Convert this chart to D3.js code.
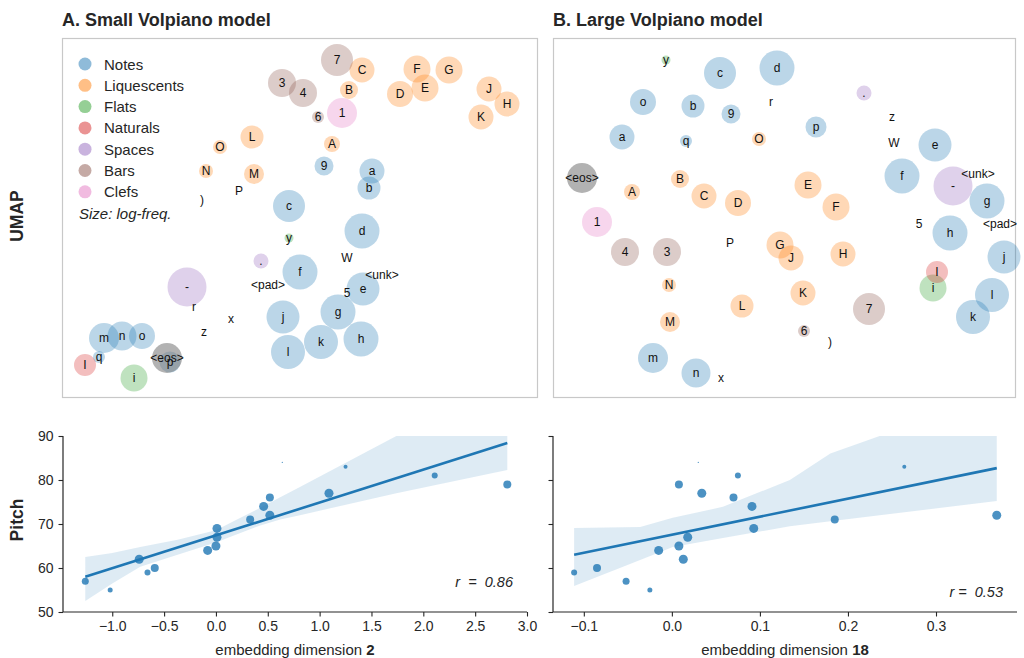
<!DOCTYPE html>
<html>
<head>
<meta charset="utf-8">
<script src="https://cdn.jsdelivr.net/npm/d3@7"></script>
<style>
  body { margin: 0; background: #fff; }
  svg { font-family: "Liberation Sans", Arial, sans-serif; }
</style>
</head>
<body>
<svg id="fig" width="1024" height="658"></svg>
<script>
// ---- data ----
const categories = ["Notes", "Liquescents", "Flats", "Naturals", "Spaces", "Bars", "Clefs"];
const catColors = ["#1f77b4", "#ff7f0e", "#2ca02c", "#d62728", "#9467bd", "#8c564b", "#e377c2"];

// token, category (-1 = none / text only, 7 = special), size (log-freq, as radius)
const tokens = ["a","b","c","d","e","f","g","h","j","k","l","m","n","o","p","q","9",
  "A","B","C","D","E","F","G","H","J","K","L","M","N","O",
  "i","y","I","-",".","3","4","6","7","1","<eos>",
  "P",")","r","x","z","W","5","<unk>","<pad>"];
const tokenCat = [0,0,0,0,0,0,0,0,0,0,0,0,0,0,0,0,0,
  1,1,1,1,1,1,1,1,1,1,1,1,1,1,
  2,2,3,4,4,5,5,5,5,6,7,
  -1,-1,-1,-1,-1,-1,-1,-1,-1];
const tokenSize = [12.5,11.5,16,17.5,16.5,17.5,17.5,17.5,16.5,17,17,15,14.5,13,10.5,6,9.5,
  8,9,12.5,13,13.5,13.5,13.5,12.5,12.5,12.5,11.5,10,7,7,
  13.5,4.5,11,19.5,7.5,14,14,6,16,15,15,
  0,0,0,0,0,0,0,0,0];

// UMAP coordinates (panel units, y downwards)
const umapSmallX = [310,307,227,300,301,238,276,299,221,259,226,42,60,80,108,37,262,
  270,287,300,338,363,355,387,445,427,419,190,192,144,158,
  72,227,23,125,199,220,241,256,275,280,105,
  177,140,132,169,142,285,285,320,206];
const umapSmallY = [133,150,168,193,251,234,274,301,279,304,314,300,298,298,324,319,128,
  106,52,32,56,50,31,32,66,51,79,99,136,133,109,
  340,200,327,249,223,45,55,79,22,75,320,
  153,162,269,281,294,220,255,237,247];
const umapLargeX = [69,140,167,224,382,349,434,397,451,420,439,100,143,90,263,133,178,
  79,127,151,185,255,283,227,290,238,250,189,117,116,206,
  380,113,384,400,311,114,72,251,316,44,29,
  177,277,218,168,339,341,366,425,447];
const umapLargeY = [99,68,35,30,107,138,163,195,219,279,257,320,335,64,89,103,76,
  154,141,158,165,147,169,207,216,220,255,268,284,247,101,
  250,22,234,148,55,214,214,293,271,184,140,
  205,304,64,340,79,105,186,136,186];

// pitch regression
const pitch = [55,57,59,60,62,64,65,67,69,71,72,74,76,77,79,81,83,84];
const pitchSize = [2.5,3.5,3,4,4.5,4.5,4.5,4.5,4.5,4,4.5,4.5,4,4.5,4,3,2,0.6];
const dim2 = [-1.02,-1.26,-0.66,-0.59,-0.74,-0.08,0.0,0.01,0.01,0.33,0.52,0.46,0.52,1.09,2.81,2.11,1.25,0.64];
const dim18 = [-0.025,-0.052,-0.111,-0.085,0.013,-0.015,0.008,0.018,0.093,0.185,0.369,0.091,0.070,0.034,0.008,0.075,0.264,0.030];

const fit2 = [[-1.26, 58.0], [2.81, 88.4]];
const band2X = [-1.26,-1.0,-0.73,-0.37,0.0,0.16,0.42,0.62,0.81,1.74,2.81];
const band2Hi = [62.5,63.4,64.8,66.4,68.6,70.5,73.6,76.1,78.4,90,96];
const band2Lo = [52.5,56.5,60.3,63.0,65.8,67.3,69.6,71.0,72.0,77.0,82.3];

const fit18 = [[-0.111, 63.0], [0.369, 82.7]];
const band18X = [-0.111,-0.036,0.001,0.058,0.134,0.18,0.236,0.369];
const band18Hi = [69.1,69.3,71.4,73.9,80.0,86.0,90,96];
const band18Lo = [55.9,61.8,64.8,66.8,69.5,70.6,72.0,75.2];

const xTicks2 = [-1.0,-0.5,0.0,0.5,1.0,1.5,2.0,2.5,3.0];
const xTicks18 = [-0.1,0.0,0.1,0.2,0.3];
const yTicks = [50,60,70,80,90];

// ---- drawing ----
const svg = d3.select("#fig");
const ink = "#262626";

svg.append("text").attr("x", 62).attr("y", 26)
  .attr("font-size", 18).attr("font-weight", "bold").attr("fill", ink)
  .text("A. Small Volpiano model");
svg.append("text").attr("x", 553).attr("y", 26)
  .attr("font-size", 18).attr("font-weight", "bold").attr("fill", ink)
  .text("B. Large Volpiano model");

svg.append("text").attr("transform", "translate(23,216) rotate(-90)")
  .attr("text-anchor", "middle").attr("font-size", 17.5).attr("font-weight", "bold").attr("fill", ink)
  .text("UMAP");
svg.append("text").attr("transform", "translate(23,520) rotate(-90)")
  .attr("text-anchor", "middle").attr("font-size", 17.5).attr("font-weight", "bold").attr("fill", ink)
  .text("Pitch");

function colorOf(c) { return c === 7 ? "#7f7f7f" : catColors[c]; }

function drawUmap(left, right, xs, ys, withLegend) {
  const top = 38, bottom = 397;
  const x = d3.scaleLinear().domain([0, right - left]).range([left, right]);
  const y = d3.scaleLinear().domain([0, bottom - top]).range([top, bottom]);
  const r = d3.scaleLinear().domain([0, 20]).range([0, 20]);
  const g = svg.append("g");
  g.append("rect").attr("x", left + 0.5).attr("y", top + 0.5)
    .attr("width", right - left).attr("height", bottom - top)
    .attr("fill", "none").attr("stroke", "#c8c8c8").attr("stroke-width", 1.2);

  const items = tokens.map((t, i) => ({ t, c: tokenCat[i], s: tokenSize[i], x: xs[i], y: ys[i] }));
  g.selectAll("circle.tok").data(items.filter(d => d.c >= 0)).join("circle")
    .attr("class", "tok")
    .attr("cx", d => x(d.x)).attr("cy", d => y(d.y)).attr("r", d => r(d.s))
    .attr("fill", d => colorOf(d.c))
    .attr("fill-opacity", d => d.c === 7 ? 0.6 : 0.3);
  g.selectAll("text.tok").data(items).join("text")
    .attr("class", "tok")
    .attr("x", d => x(d.x)).attr("y", d => y(d.y))
    .attr("text-anchor", "middle").attr("dominant-baseline", "central")
    .attr("font-size", 12).attr("fill", "#111")
    .text(d => d.t);

  if (withLegend) {
    const ly = d3.scaleLinear().domain([0, 1]).range([64, 85.3]);
    const lg = g.append("g");
    categories.forEach((c, i) => {
      lg.append("circle").attr("cx", 85).attr("cy", ly(i)).attr("r", 6.5)
        .attr("fill", catColors[i]).attr("fill-opacity", 0.5);
      lg.append("text").attr("x", 104).attr("y", ly(i))
        .attr("dominant-baseline", "central").attr("font-size", 15).attr("fill", ink)
        .text(c);
    });
    lg.append("text").attr("x", 79).attr("y", ly(7))
      .attr("dominant-baseline", "central").attr("font-size", 15)
      .attr("font-style", "italic").attr("fill", ink)
      .text("Size: log-freq.");
  }
}

drawUmap(62, 537, umapSmallX, umapSmallY, true);
drawUmap(553, 1015, umapLargeX, umapLargeY, false);

const yScale = d3.scaleLinear().domain([50, 90]).range([612, 436]);
const rScale = d3.scaleLinear().domain([0, 5]).range([0, 5]);

function drawReg(id, xDomain, xRange, xs, fit, bx, bhi, blo, ticks, showY, dimLabel, rText) {
  const x = d3.scaleLinear().domain(xDomain).range(xRange);
  const g = svg.append("g");
  g.append("clipPath").attr("id", id).append("rect")
    .attr("x", xRange[0]).attr("y", 436).attr("width", xRange[1] - xRange[0]).attr("height", 176);

  const pts = pitch.map((p, i) => ({ x: xs[i], y: p, s: pitchSize[i] }));
  g.selectAll("circle").data(pts).join("circle")
    .attr("cx", d => x(d.x)).attr("cy", d => yScale(d.y)).attr("r", d => rScale(d.s))
    .attr("fill", "#1f77b4").attr("fill-opacity", 0.8);

  const band = bx.map((v, i) => ({ x: v, lo: blo[i], hi: bhi[i] }));
  g.append("path").datum(band)
    .attr("clip-path", `url(#${id})`)
    .attr("fill", "#1f77b4").attr("fill-opacity", 0.15)
    .attr("d", d3.area().x(d => x(d.x)).y0(d => yScale(d.lo)).y1(d => yScale(d.hi)));

  g.append("path").datum(fit)
    .attr("fill", "none").attr("stroke", "#1f77b4").attr("stroke-width", 2.6)
    .attr("d", d3.line().x(d => x(d[0])).y(d => yScale(d[1])));

  const xAxis = g.append("g").attr("transform", "translate(0,612)")
    .call(d3.axisBottom(x).tickValues(ticks).tickFormat(d3.format(".1f")).tickSize(4.5).tickPadding(5));
  const yAxis = g.append("g").attr("transform", `translate(${xRange[0]},0)`)
    .call(d3.axisLeft(yScale).tickValues(yTicks).tickSize(4.5).tickPadding(5)
      .tickFormat(showY ? d3.format("d") : ""));
  [xAxis, yAxis].forEach(a => {
    a.select(".domain").attr("stroke", ink).attr("stroke-width", 1.2);
    a.selectAll(".tick line").attr("stroke", ink).attr("stroke-width", 1.1);
    a.selectAll(".tick text").attr("fill", ink).attr("font-size", 14)
      .attr("font-family", "'Liberation Sans', Arial, sans-serif");
  });
  xAxis.select(".domain").attr("d", `M${xRange[0]},0H${xRange[1]}`);
  yAxis.select(".domain").attr("d", "M0,612V436");

  const lab = g.append("text").attr("x", (xRange[0] + xRange[1]) / 2).attr("y", 655)
    .attr("text-anchor", "middle").attr("font-size", 15).attr("fill", ink);
  lab.append("tspan").text("embedding dimension ");
  lab.append("tspan").attr("font-weight", "bold").text(dimLabel);

  g.append("text").attr("x", rText[0]).attr("y", rText[1])
    .attr("text-anchor", "end").attr("font-size", 14.5).attr("font-style", "italic").attr("fill", ink)
    .attr("xml:space", "preserve")
    .text(rText[2]);
}

drawReg("clipA", [-1.475, 3.0], [63, 527], dim2, fit2, band2X, band2Hi, band2Lo, xTicks2, true, "2", [513, 587, "r  =  0.86"]);
drawReg("clipB", [-0.135, 0.392], [553, 1017], dim18, fit18, band18X, band18Hi, band18Lo, xTicks18, false, "18", [1003, 597, "r =  0.53"]);
</script>
</body>
</html>
